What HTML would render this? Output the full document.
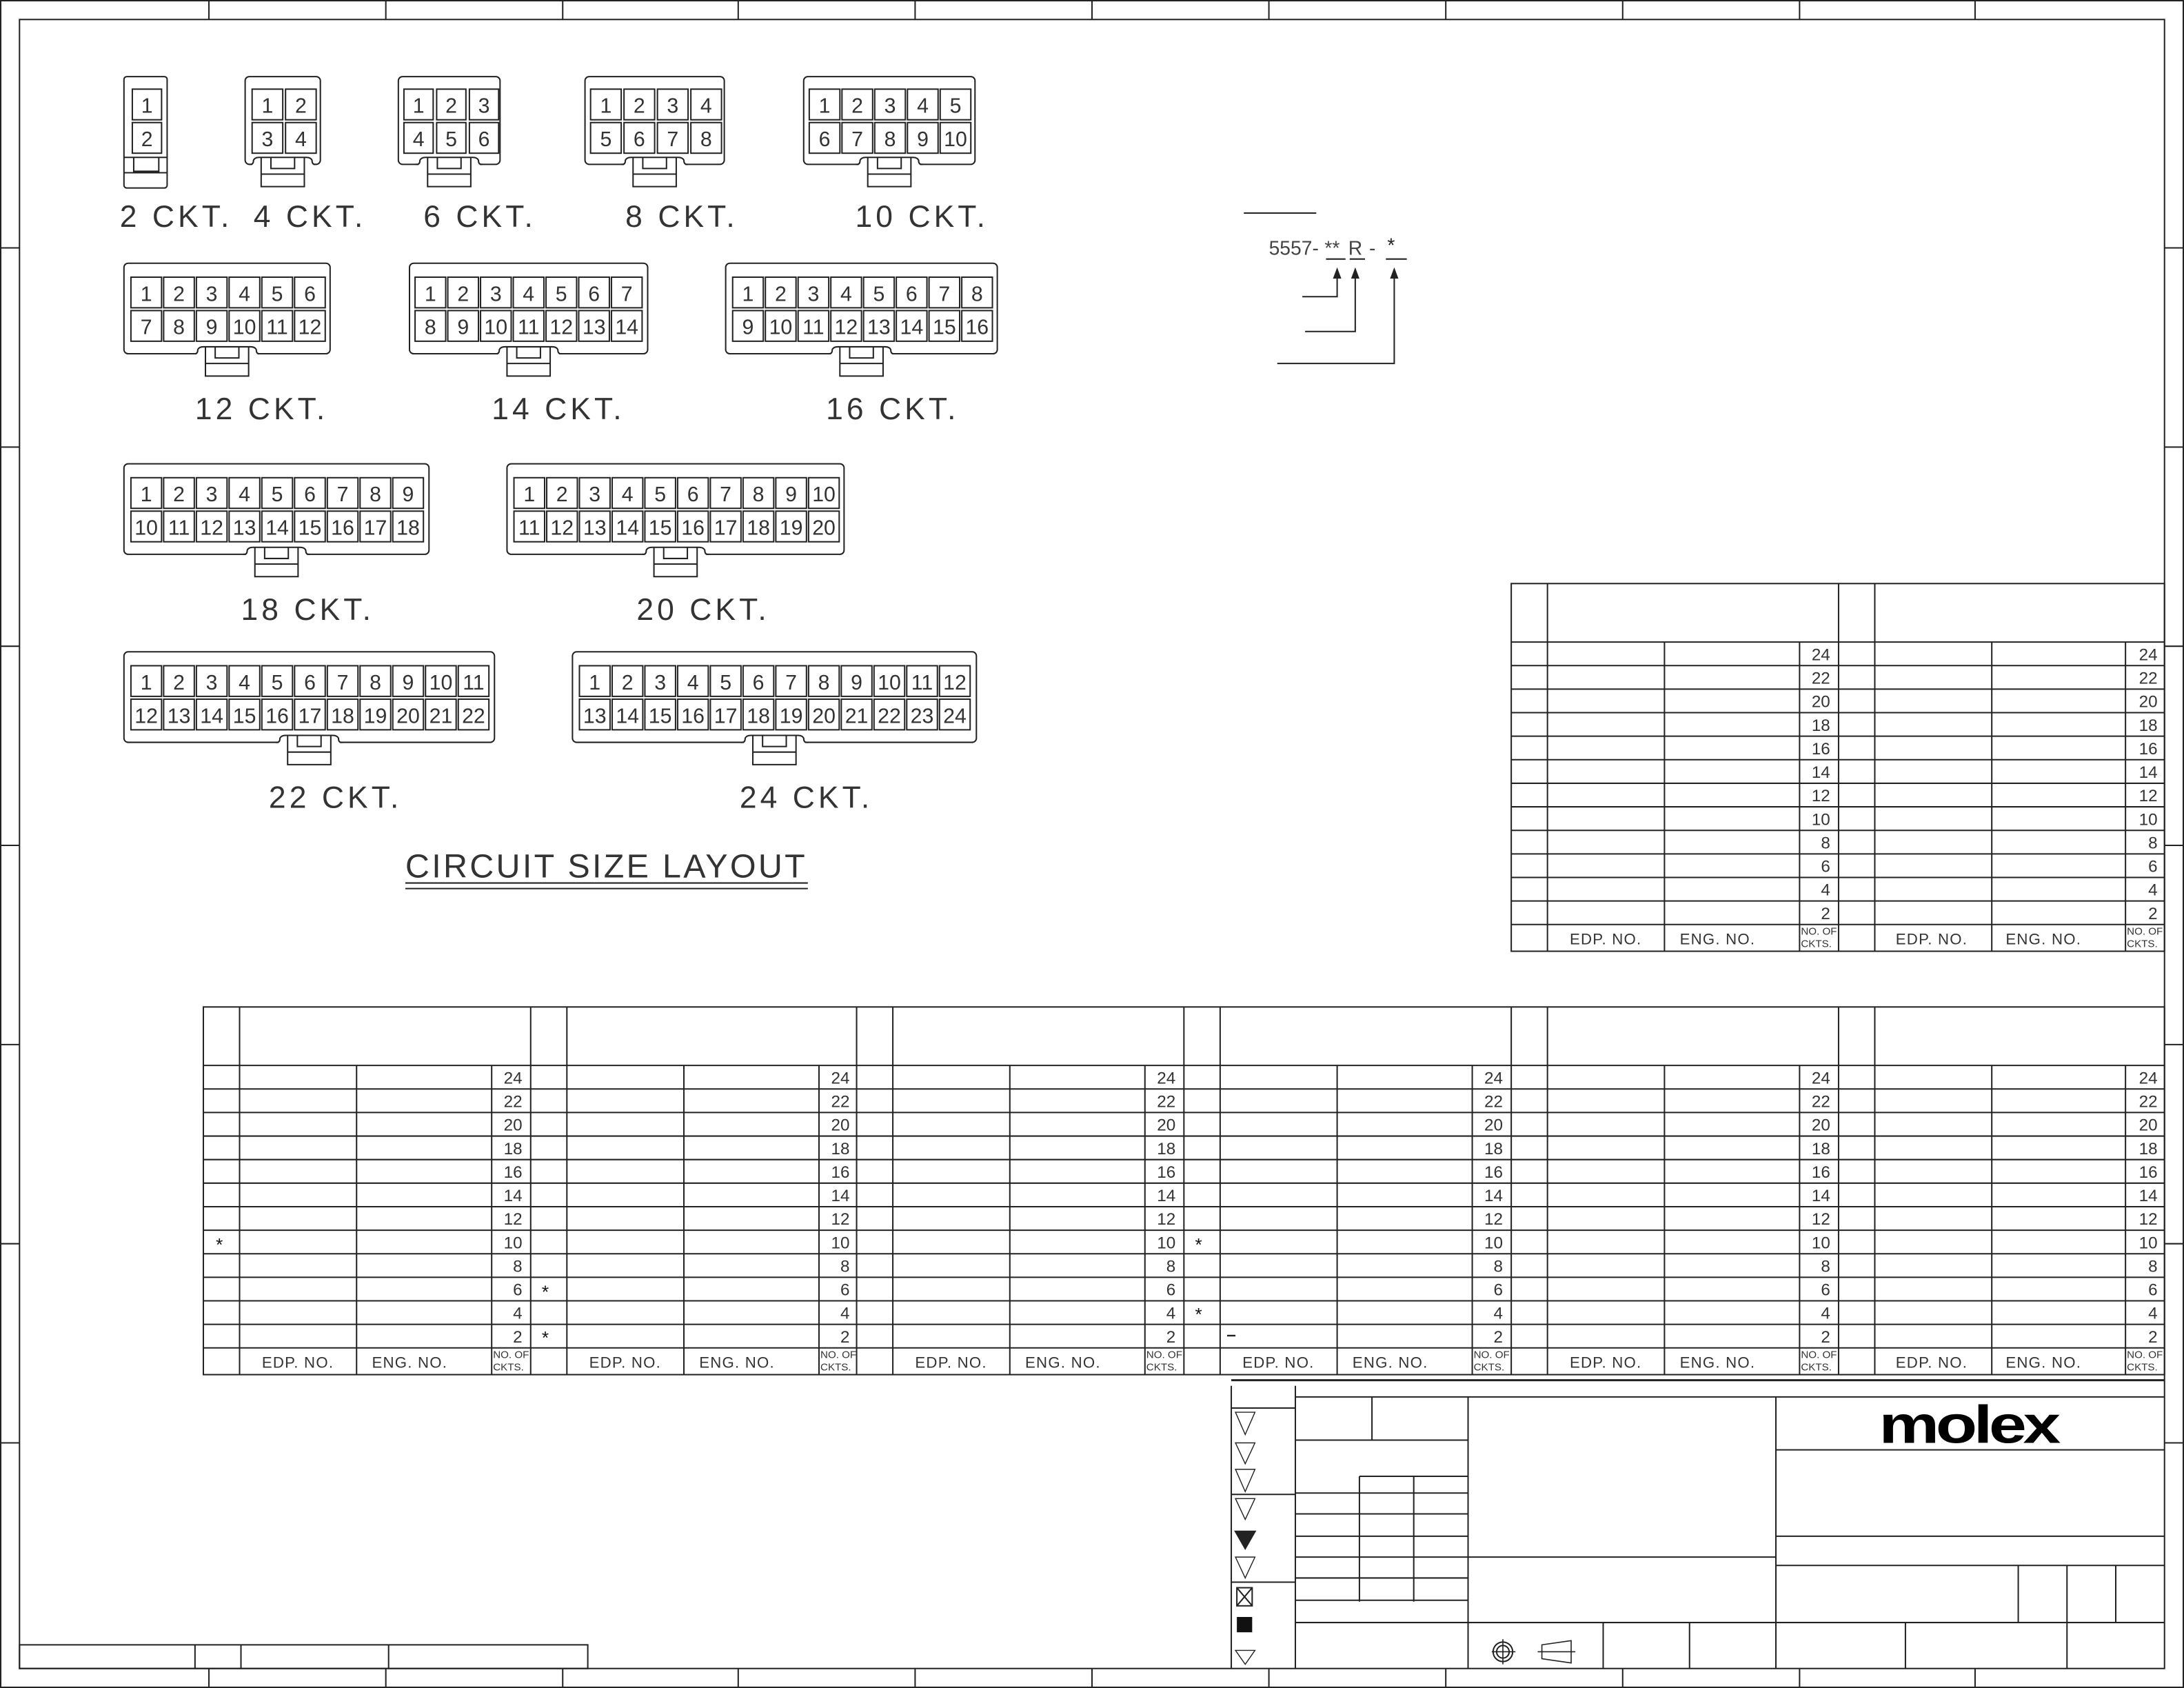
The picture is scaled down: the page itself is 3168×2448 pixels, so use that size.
<!DOCTYPE html>
<html><head><meta charset="utf-8"><style>
html,body{margin:0;padding:0;background:#fff}
svg{display:block}
text{font-family:"Liberation Sans",sans-serif;fill:#333}
.n{font-size:15px;text-anchor:middle}
.l{font-size:22px;letter-spacing:2.5px;fill:#444}
.t{font-size:12px;text-anchor:end}
.f{font-size:11px;letter-spacing:0.6px}
.s{font-size:7.5px}
</style></head><body>
<svg width="3168" height="2448" viewBox="0 0 1568 1212" preserveAspectRatio="none" xmlns="http://www.w3.org/2000/svg">
<g fill="none" stroke="#222" stroke-width="1">
<rect x="0.5" y="0.5" width="1567" height="1211"/>
<rect x="14" y="14" width="1540" height="1184"/>
<path d="M150 0V14M277 0V14M404 0V14M530 0V14M657 0V14M784 0V14M911 0V14M1038 0V14M1165 0V14M1292 0V14M1418 0V14
M150 1198V1212M277 1198V1212M404 1198V1212M530 1198V1212M657 1198V1212M784 1198V1212M911 1198V1212M1038 1198V1212M1165 1198V1212M1292 1198V1212M1418 1198V1212
M0 178H14M0 321H14M0 464H14M0 607H14M0 750H14M0 893H14M0 1036H14
M1554 178H1568M1554 321H1568M1554 464H1568M1554 607H1568M1554 750H1568M1554 893H1568M1554 1036H1568"/>
<rect x="14" y="1181" width="408" height="17"/>
<path d="M140 1181V1198M173 1181V1198M279 1181V1198"/>

<rect x="89" y="55" width="31" height="80" rx="2"/>
<path d="M89 113H120M89 124H120M96 113V123H114V113"/>
<rect x="95" y="64" width="21" height="22"/><rect x="95" y="88" width="21" height="22"/>
<rect x="176" y="55" width="54" height="63" rx="3"/>
<rect x="181" y="64" width="22" height="22"/><rect x="205" y="64" width="22" height="22"/>
<rect x="181" y="88" width="22" height="22"/><rect x="205" y="88" width="22" height="22"/>
<rect x="286" y="55" width="73" height="63" rx="3"/>
<rect x="290" y="64" width="21" height="22"/><rect x="313.5" y="64" width="21" height="22"/><rect x="337" y="64" width="21" height="22"/>
<rect x="290" y="88" width="21" height="22"/><rect x="313.5" y="88" width="21" height="22"/><rect x="337" y="88" width="21" height="22"/>
<rect x="420" y="55" width="100" height="63" rx="3"/>
<rect x="424" y="64" width="22" height="22"/><rect x="448" y="64" width="22" height="22"/><rect x="472" y="64" width="22" height="22"/><rect x="496" y="64" width="22" height="22"/>
<rect x="424" y="88" width="22" height="22"/><rect x="448" y="88" width="22" height="22"/><rect x="472" y="88" width="22" height="22"/><rect x="496" y="88" width="22" height="22"/>
<rect x="577" y="55" width="123" height="63" rx="3"/>
<rect x="581" y="64" width="22" height="22"/><rect x="604.5" y="64" width="22" height="22"/><rect x="628" y="64" width="22" height="22"/><rect x="651.5" y="64" width="22" height="22"/><rect x="675" y="64" width="22" height="22"/>
<rect x="581" y="88" width="22" height="22"/><rect x="604.5" y="88" width="22" height="22"/><rect x="628" y="88" width="22" height="22"/><rect x="651.5" y="88" width="22" height="22"/><rect x="675" y="88" width="22" height="22"/>
<rect x="89" y="189" width="148" height="65" rx="3"/>
<rect x="294" y="189" width="171" height="65" rx="3"/>
<rect x="521" y="189" width="195" height="65" rx="3"/>
<rect x="89" y="333" width="219" height="65" rx="3"/>
<rect x="364" y="333" width="242" height="65" rx="3"/>
<rect x="89" y="468" width="266" height="65" rx="3"/>
<rect x="411" y="468" width="290" height="65" rx="3"/>
</g>

<defs>
<g id="latch">
<rect x="-22" y="-6" width="44" height="7" fill="#fff" stroke="none"/>
<path d="M-24 0H-23Q-21 0 -21 -3Q-20 -5 -17 -5H17Q20 -5 21 -3Q21 0 23 0H24M-15.5 -5V16H15.5V-5M-8.5 -5V3H8.5V-5M-15.5 7H15.5" fill="none" stroke="#222" stroke-width="1"/>
</g>
</defs>
<use href="#latch" x="203" y="118"/>
<use href="#latch" x="322.5" y="118"/>
<use href="#latch" x="470" y="118"/>
<use href="#latch" x="638.5" y="118"/>
<use href="#latch" x="163" y="254"/>
<use href="#latch" x="379.5" y="254"/>
<use href="#latch" x="618.5" y="254"/>
<use href="#latch" x="198.5" y="398"/>
<use href="#latch" x="485" y="398"/>
<use href="#latch" x="222" y="533"/>
<use href="#latch" x="556" y="533"/>

<g fill="none" stroke="#222" stroke-width="1">
<g transform="translate(94,199)">
<rect x="0" width="22" height="22"/><rect x="23.5" width="22" height="22"/><rect x="47" width="22" height="22"/><rect x="70.5" width="22" height="22"/><rect x="94" width="22" height="22"/><rect x="117.5" width="22" height="22"/>
<rect x="0" y="24" width="22" height="22"/><rect x="23.5" y="24" width="22" height="22"/><rect x="47" y="24" width="22" height="22"/><rect x="70.5" y="24" width="22" height="22"/><rect x="94" y="24" width="22" height="22"/><rect x="117.5" y="24" width="22" height="22"/>
</g>
<g transform="translate(298,199)">
<rect x="0" width="22" height="22"/><rect x="23.5" width="22" height="22"/><rect x="47" width="22" height="22"/><rect x="70.5" width="22" height="22"/><rect x="94" width="22" height="22"/><rect x="117.5" width="22" height="22"/><rect x="141" width="22" height="22"/>
<rect x="0" y="24" width="22" height="22"/><rect x="23.5" y="24" width="22" height="22"/><rect x="47" y="24" width="22" height="22"/><rect x="70.5" y="24" width="22" height="22"/><rect x="94" y="24" width="22" height="22"/><rect x="117.5" y="24" width="22" height="22"/><rect x="141" y="24" width="22" height="22"/>
</g>
<g transform="translate(526,199)">
<rect x="0" width="22" height="22"/><rect x="23.5" width="22" height="22"/><rect x="47" width="22" height="22"/><rect x="70.5" width="22" height="22"/><rect x="94" width="22" height="22"/><rect x="117.5" width="22" height="22"/><rect x="141" width="22" height="22"/><rect x="164.5" width="22" height="22"/>
<rect x="0" y="24" width="22" height="22"/><rect x="23.5" y="24" width="22" height="22"/><rect x="47" y="24" width="22" height="22"/><rect x="70.5" y="24" width="22" height="22"/><rect x="94" y="24" width="22" height="22"/><rect x="117.5" y="24" width="22" height="22"/><rect x="141" y="24" width="22" height="22"/><rect x="164.5" y="24" width="22" height="22"/>
</g>
<g transform="translate(94,343)">
<rect x="0" width="22" height="22"/><rect x="23.5" width="22" height="22"/><rect x="47" width="22" height="22"/><rect x="70.5" width="22" height="22"/><rect x="94" width="22" height="22"/><rect x="117.5" width="22" height="22"/><rect x="141" width="22" height="22"/><rect x="164.5" width="22" height="22"/><rect x="188" width="22" height="22"/>
<rect x="0" y="24" width="22" height="22"/><rect x="23.5" y="24" width="22" height="22"/><rect x="47" y="24" width="22" height="22"/><rect x="70.5" y="24" width="22" height="22"/><rect x="94" y="24" width="22" height="22"/><rect x="117.5" y="24" width="22" height="22"/><rect x="141" y="24" width="22" height="22"/><rect x="164.5" y="24" width="22" height="22"/><rect x="188" y="24" width="22" height="22"/>
</g>
<g transform="translate(369,343)">
<rect x="0" width="22" height="22"/><rect x="23.5" width="22" height="22"/><rect x="47" width="22" height="22"/><rect x="70.5" width="22" height="22"/><rect x="94" width="22" height="22"/><rect x="117.5" width="22" height="22"/><rect x="141" width="22" height="22"/><rect x="164.5" width="22" height="22"/><rect x="188" width="22" height="22"/><rect x="211.5" width="22" height="22"/>
<rect x="0" y="24" width="22" height="22"/><rect x="23.5" y="24" width="22" height="22"/><rect x="47" y="24" width="22" height="22"/><rect x="70.5" y="24" width="22" height="22"/><rect x="94" y="24" width="22" height="22"/><rect x="117.5" y="24" width="22" height="22"/><rect x="141" y="24" width="22" height="22"/><rect x="164.5" y="24" width="22" height="22"/><rect x="188" y="24" width="22" height="22"/><rect x="211.5" y="24" width="22" height="22"/>
</g>
<g transform="translate(94,478)">
<rect x="0" width="22" height="22"/><rect x="23.5" width="22" height="22"/><rect x="47" width="22" height="22"/><rect x="70.5" width="22" height="22"/><rect x="94" width="22" height="22"/><rect x="117.5" width="22" height="22"/><rect x="141" width="22" height="22"/><rect x="164.5" width="22" height="22"/><rect x="188" width="22" height="22"/><rect x="211.5" width="22" height="22"/><rect x="235" width="22" height="22"/>
<rect x="0" y="24" width="22" height="22"/><rect x="23.5" y="24" width="22" height="22"/><rect x="47" y="24" width="22" height="22"/><rect x="70.5" y="24" width="22" height="22"/><rect x="94" y="24" width="22" height="22"/><rect x="117.5" y="24" width="22" height="22"/><rect x="141" y="24" width="22" height="22"/><rect x="164.5" y="24" width="22" height="22"/><rect x="188" y="24" width="22" height="22"/><rect x="211.5" y="24" width="22" height="22"/><rect x="235" y="24" width="22" height="22"/>
</g>
<g transform="translate(416,478)">
<rect x="0" width="22" height="22"/><rect x="23.5" width="22" height="22"/><rect x="47" width="22" height="22"/><rect x="70.5" width="22" height="22"/><rect x="94" width="22" height="22"/><rect x="117.5" width="22" height="22"/><rect x="141" width="22" height="22"/><rect x="164.5" width="22" height="22"/><rect x="188" width="22" height="22"/><rect x="211.5" width="22" height="22"/><rect x="235" width="22" height="22"/><rect x="258.5" width="22" height="22"/>
<rect x="0" y="24" width="22" height="22"/><rect x="23.5" y="24" width="22" height="22"/><rect x="47" y="24" width="22" height="22"/><rect x="70.5" y="24" width="22" height="22"/><rect x="94" y="24" width="22" height="22"/><rect x="117.5" y="24" width="22" height="22"/><rect x="141" y="24" width="22" height="22"/><rect x="164.5" y="24" width="22" height="22"/><rect x="188" y="24" width="22" height="22"/><rect x="211.5" y="24" width="22" height="22"/><rect x="235" y="24" width="22" height="22"/><rect x="258.5" y="24" width="22" height="22"/>
</g>
</g>

<g class="n">
<text x="105.5" y="81">1</text><text x="105.5" y="105">2</text>
<text x="192" y="81">1</text><text x="216" y="81">2</text><text x="192" y="105">3</text><text x="216" y="105">4</text>
<text x="300.5" y="81">1</text><text x="324" y="81">2</text><text x="347.5" y="81">3</text><text x="300.5" y="105">4</text><text x="324" y="105">5</text><text x="347.5" y="105">6</text>
<text x="435" y="81">1</text><text x="459" y="81">2</text><text x="483" y="81">3</text><text x="507" y="81">4</text><text x="435" y="105">5</text><text x="459" y="105">6</text><text x="483" y="105">7</text><text x="507" y="105">8</text>
<text x="592" y="81">1</text><text x="615.5" y="81">2</text><text x="639" y="81">3</text><text x="662.5" y="81">4</text><text x="686" y="81">5</text><text x="592" y="105">6</text><text x="615.5" y="105">7</text><text x="639" y="105">8</text><text x="662.5" y="105">9</text><text x="686" y="105">10</text>
</g>
<g class="n" transform="translate(105,216)">
<text x="0">1</text><text x="23.5">2</text><text x="47">3</text><text x="70.5">4</text><text x="94">5</text><text x="117.5">6</text>
<text x="0" y="24">7</text><text x="23.5" y="24">8</text><text x="47" y="24">9</text><text x="70.5" y="24">10</text><text x="94" y="24">11</text><text x="117.5" y="24">12</text>
</g>
<g class="n" transform="translate(309,216)">
<text x="0">1</text><text x="23.5">2</text><text x="47">3</text><text x="70.5">4</text><text x="94">5</text><text x="117.5">6</text><text x="141">7</text>
<text x="0" y="24">8</text><text x="23.5" y="24">9</text><text x="47" y="24">10</text><text x="70.5" y="24">11</text><text x="94" y="24">12</text><text x="117.5" y="24">13</text><text x="141" y="24">14</text>
</g>
<g class="n" transform="translate(537,216)">
<text x="0">1</text><text x="23.5">2</text><text x="47">3</text><text x="70.5">4</text><text x="94">5</text><text x="117.5">6</text><text x="141">7</text><text x="164.5">8</text>
<text x="0" y="24">9</text><text x="23.5" y="24">10</text><text x="47" y="24">11</text><text x="70.5" y="24">12</text><text x="94" y="24">13</text><text x="117.5" y="24">14</text><text x="141" y="24">15</text><text x="164.5" y="24">16</text>
</g>
<g class="n" transform="translate(105,360)">
<text x="0">1</text><text x="23.5">2</text><text x="47">3</text><text x="70.5">4</text><text x="94">5</text><text x="117.5">6</text><text x="141">7</text><text x="164.5">8</text><text x="188">9</text>
<text x="0" y="24">10</text><text x="23.5" y="24">11</text><text x="47" y="24">12</text><text x="70.5" y="24">13</text><text x="94" y="24">14</text><text x="117.5" y="24">15</text><text x="141" y="24">16</text><text x="164.5" y="24">17</text><text x="188" y="24">18</text>
</g>
<g class="n" transform="translate(380,360)">
<text x="0">1</text><text x="23.5">2</text><text x="47">3</text><text x="70.5">4</text><text x="94">5</text><text x="117.5">6</text><text x="141">7</text><text x="164.5">8</text><text x="188">9</text><text x="211.5">10</text>
<text x="0" y="24">11</text><text x="23.5" y="24">12</text><text x="47" y="24">13</text><text x="70.5" y="24">14</text><text x="94" y="24">15</text><text x="117.5" y="24">16</text><text x="141" y="24">17</text><text x="164.5" y="24">18</text><text x="188" y="24">19</text><text x="211.5" y="24">20</text>
</g>
<g class="n" transform="translate(105,495)">
<text x="0">1</text><text x="23.5">2</text><text x="47">3</text><text x="70.5">4</text><text x="94">5</text><text x="117.5">6</text><text x="141">7</text><text x="164.5">8</text><text x="188">9</text><text x="211.5">10</text><text x="235">11</text>
<text x="0" y="24">12</text><text x="23.5" y="24">13</text><text x="47" y="24">14</text><text x="70.5" y="24">15</text><text x="94" y="24">16</text><text x="117.5" y="24">17</text><text x="141" y="24">18</text><text x="164.5" y="24">19</text><text x="188" y="24">20</text><text x="211.5" y="24">21</text><text x="235" y="24">22</text>
</g>
<g class="n" transform="translate(427,495)">
<text x="0">1</text><text x="23.5">2</text><text x="47">3</text><text x="70.5">4</text><text x="94">5</text><text x="117.5">6</text><text x="141">7</text><text x="164.5">8</text><text x="188">9</text><text x="211.5">10</text><text x="235">11</text><text x="258.5">12</text>
<text x="0" y="24">13</text><text x="23.5" y="24">14</text><text x="47" y="24">15</text><text x="70.5" y="24">16</text><text x="94" y="24">17</text><text x="117.5" y="24">18</text><text x="141" y="24">19</text><text x="164.5" y="24">20</text><text x="188" y="24">21</text><text x="211.5" y="24">22</text><text x="235" y="24">23</text><text x="258.5" y="24">24</text>
</g>

<g class="l">
<text x="86" y="163">2 CKT.</text>
<text x="182" y="163">4 CKT.</text>
<text x="304" y="163">6 CKT.</text>
<text x="449" y="163">8 CKT.</text>
<text x="614" y="163">10 CKT.</text>
<text x="140" y="301">12 CKT.</text>
<text x="353" y="301">14 CKT.</text>
<text x="593" y="301">16 CKT.</text>
<text x="173" y="445">18 CKT.</text>
<text x="457" y="445">20 CKT.</text>
<text x="193" y="580">22 CKT.</text>
<text x="531" y="580">24 CKT.</text>
<text x="291" y="630" textLength="287" style="font-size:24px;letter-spacing:0">CIRCUIT SIZE LAYOUT</text>
</g>
<path d="M291 634H580M291 638H580" stroke="#222" stroke-width="1"/>

<text x="911" y="183" style="font-size:14px;fill:#444">5557-</text>
<text x="951" y="183" style="font-size:14px;fill:#444">**</text>
<text x="968" y="183" style="font-size:14px;fill:#444">R</text>
<text x="983" y="183" style="font-size:14px;fill:#444">-</text>
<text x="996" y="181" style="font-size:14px;fill:#222">*</text>
<g stroke="#222" stroke-width="1" fill="none">
<path d="M893 153H945M952 186H966M969 186H980M995 186H1010"/>
<path d="M960 198V213H935M973 198V238H937M1001 198V261H917"/>
</g>
<path d="M960 192L957 200H963ZM973 192L970 200H976ZM1001 192L998 200H1004Z" fill="#222"/>

<g stroke="#222" stroke-width="1" fill="none">
<rect x="1085" y="419" width="469" height="264"/>
<path d="M1085 461H1554M1085 477.9H1554M1085 494.8H1554M1085 511.7H1554M1085 528.6H1554M1085 545.5H1554M1085 562.4H1554M1085 579.3H1554M1085 596.2H1554M1085 613.1H1554M1085 630H1554M1085 646.9H1554M1085 663.8H1554"/>
<path d="M1111 419V683M1320 419V683M1346 419V683M1195 461V683M1292 461V683M1430 461V683M1526 461V683"/>
</g>
<g class="t">
<text x="1314" y="474">24</text><text x="1314" y="490.9">22</text><text x="1314" y="507.8">20</text><text x="1314" y="524.7">18</text><text x="1314" y="541.6">16</text><text x="1314" y="558.5">14</text><text x="1314" y="575.4">12</text><text x="1314" y="592.3">10</text><text x="1314" y="609.2">8</text><text x="1314" y="626.1">6</text><text x="1314" y="643">4</text><text x="1314" y="659.9">2</text>
<text x="1549" y="474">24</text><text x="1549" y="490.9">22</text><text x="1549" y="507.8">20</text><text x="1549" y="524.7">18</text><text x="1549" y="541.6">16</text><text x="1549" y="558.5">14</text><text x="1549" y="575.4">12</text><text x="1549" y="592.3">10</text><text x="1549" y="609.2">8</text><text x="1549" y="626.1">6</text><text x="1549" y="643">4</text><text x="1549" y="659.9">2</text>
</g>
<g class="f">
<text x="1127" y="678">EDP. NO.</text><text x="1206" y="678">ENG. NO.</text>
<text x="1361" y="678">EDP. NO.</text><text x="1440" y="678">ENG. NO.</text>
</g>
<g class="s">
<text x="1293" y="671">NO. OF</text><text x="1293" y="680">CKTS.</text>
<text x="1527" y="671">NO. OF</text><text x="1527" y="680">CKTS.</text>
</g>

<g stroke="#222" stroke-width="1" fill="none">
<rect x="146" y="723" width="1408" height="264"/>
<path d="M146 765H1554M146 781.9H1554M146 798.8H1554M146 815.7H1554M146 832.6H1554M146 849.5H1554M146 866.4H1554M146 883.3H1554M146 900.2H1554M146 917.1H1554M146 934H1554M146 950.9H1554M146 967.8H1554"/>
<path d="M172 723V987M381 723V987M407 723V987M615 723V987M641 723V987M850 723V987M876 723V987M1085 723V987M1111 723V987M1320 723V987M1346 723V987
M256 765V987M353 765V987M491 765V987M588 765V987M725 765V987M822 765V987M960 765V987M1057 765V987M1195 765V987M1292 765V987M1430 765V987M1526 765V987"/>
</g>
<g class="t">
<g transform="translate(375,0)"><text y="778">24</text><text y="794.9">22</text><text y="811.8">20</text><text y="828.7">18</text><text y="845.6">16</text><text y="862.5">14</text><text y="879.4">12</text><text y="896.3">10</text><text y="913.2">8</text><text y="930.1">6</text><text y="947">4</text><text y="963.9">2</text></g>
<g transform="translate(610,0)"><text y="778">24</text><text y="794.9">22</text><text y="811.8">20</text><text y="828.7">18</text><text y="845.6">16</text><text y="862.5">14</text><text y="879.4">12</text><text y="896.3">10</text><text y="913.2">8</text><text y="930.1">6</text><text y="947">4</text><text y="963.9">2</text></g>
<g transform="translate(844,0)"><text y="778">24</text><text y="794.9">22</text><text y="811.8">20</text><text y="828.7">18</text><text y="845.6">16</text><text y="862.5">14</text><text y="879.4">12</text><text y="896.3">10</text><text y="913.2">8</text><text y="930.1">6</text><text y="947">4</text><text y="963.9">2</text></g>
<g transform="translate(1079,0)"><text y="778">24</text><text y="794.9">22</text><text y="811.8">20</text><text y="828.7">18</text><text y="845.6">16</text><text y="862.5">14</text><text y="879.4">12</text><text y="896.3">10</text><text y="913.2">8</text><text y="930.1">6</text><text y="947">4</text><text y="963.9">2</text></g>
<g transform="translate(1314,0)"><text y="778">24</text><text y="794.9">22</text><text y="811.8">20</text><text y="828.7">18</text><text y="845.6">16</text><text y="862.5">14</text><text y="879.4">12</text><text y="896.3">10</text><text y="913.2">8</text><text y="930.1">6</text><text y="947">4</text><text y="963.9">2</text></g>
<g transform="translate(1549,0)"><text y="778">24</text><text y="794.9">22</text><text y="811.8">20</text><text y="828.7">18</text><text y="845.6">16</text><text y="862.5">14</text><text y="879.4">12</text><text y="896.3">10</text><text y="913.2">8</text><text y="930.1">6</text><text y="947">4</text><text y="963.9">2</text></g>
</g>
<g class="f">
<text x="188" y="982">EDP. NO.</text><text x="267" y="982">ENG. NO.</text>
<text x="423" y="982">EDP. NO.</text><text x="502" y="982">ENG. NO.</text>
<text x="657" y="982">EDP. NO.</text><text x="736" y="982">ENG. NO.</text>
<text x="892" y="982">EDP. NO.</text><text x="971" y="982">ENG. NO.</text>
<text x="1127" y="982">EDP. NO.</text><text x="1206" y="982">ENG. NO.</text>
<text x="1361" y="982">EDP. NO.</text><text x="1440" y="982">ENG. NO.</text>
</g>
<g class="s">
<text x="354" y="975">NO. OF</text><text x="354" y="984">CKTS.</text>
<text x="589" y="975">NO. OF</text><text x="589" y="984">CKTS.</text>
<text x="823" y="975">NO. OF</text><text x="823" y="984">CKTS.</text>
<text x="1058" y="975">NO. OF</text><text x="1058" y="984">CKTS.</text>
<text x="1293" y="975">NO. OF</text><text x="1293" y="984">CKTS.</text>
<text x="1527" y="975">NO. OF</text><text x="1527" y="984">CKTS.</text>
</g>
<g style="font-size:13px">
<text x="155" y="898" style="fill:#111">*</text>
<text x="389" y="932" style="fill:#111">*</text>
<text x="389" y="965" style="fill:#111">*</text>
<text x="858" y="898" style="fill:#111">*</text>
<text x="858" y="948" style="fill:#111">*</text>
</g>
<path d="M881 959H887" stroke="#222" stroke-width="1.2"/>

<g stroke="#222" stroke-width="1" fill="none">
<path d="M884 991H1554" stroke-width="1.5"/>
<path d="M884 995V1198M930 995V1198M1054 1003V1198M1275 1003V1198M985 1003V1034M976 1060V1150M1015 1060V1150"/>
<path d="M930 1003H1554M884 1011H930M884 1073H930M884 1136H930M930 1034H1054M976 1060H1054M930 1072H1054M930 1087H1054M930 1103H1054M930 1118H1054M930 1133H1054M930 1149H1054M930 1165H1554M1054 1118H1275M1275 1041H1554M1275 1103H1554M1275 1124H1554"/>
<path d="M1449 1124V1165M1484 1124V1165M1519 1124V1165M1151 1165V1198M1213 1165V1198M1368 1165V1198M1484 1165V1198"/>
<path d="M887 1014H901L894 1030ZM887 1036H901L894 1051ZM887 1055H901L894 1071ZM887 1076H901L894 1091ZM887 1118H901L894 1133ZM887 1185H901L894 1195Z" stroke-width="0.7"/>
<rect x="888" y="1140" width="11" height="13"/>
<path d="M888 1140L899 1153M899 1140L888 1153"/>
<circle cx="1079" cy="1186" r="7"/><circle cx="1079" cy="1186" r="4.5"/>
<path d="M1071 1186H1088M1079 1177V1195M1107 1181L1128 1178V1194L1107 1191Z M1104 1186H1131" stroke-width="0.8"/>
</g>
<path d="M886 1099H902L894 1113Z" fill="#222"/>
<rect x="888" y="1161" width="11" height="11" fill="#111"/>
<text x="1349" y="1036" textLength="128" lengthAdjust="spacingAndGlyphs" style="font-size:38px;font-weight:bold;fill:#000;letter-spacing:-2px">molex</text>
</svg>
</body></html>
